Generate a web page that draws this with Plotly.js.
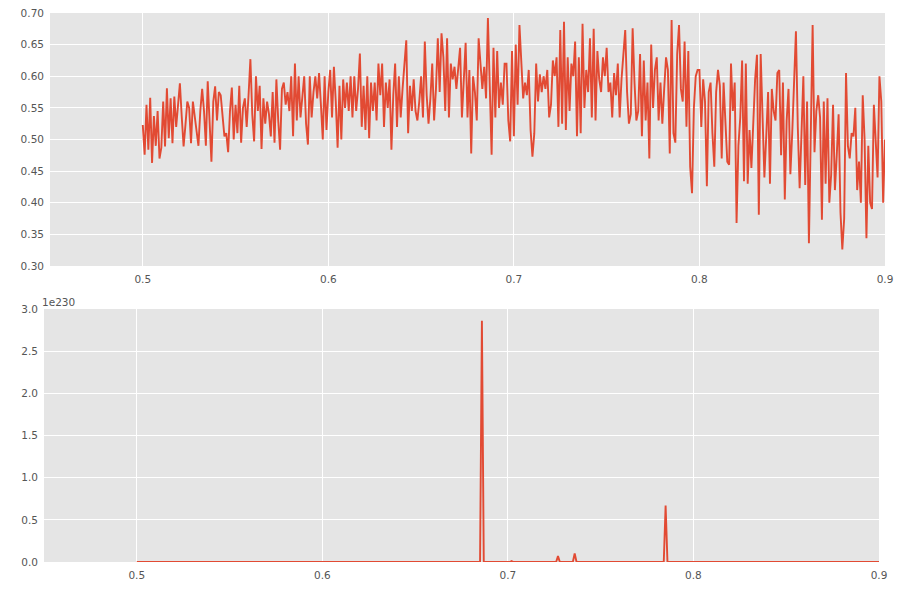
<!DOCTYPE html>
<html>
<head>
<meta charset="utf-8">
<script src="https://cdn.plot.ly/plotly-3.0.1.min.js"></script>
<style>html,body{margin:0;padding:0;background:#fff;}#chart{width:902px;height:599px;}</style>
</head>
<body>
<div id="chart"></div>
<script>
// Top series: sampled from x = 0.5 with step 0.001
const topStart = 0.5;
const topStep = 0.001;
const topValues = [
0.523,0.476,0.555,0.484,0.566,0.463,0.537,0.49,0.545,0.47,
0.487,0.56,0.489,0.581,0.502,0.565,0.494,0.568,0.52,0.55,
0.589,0.536,0.489,0.523,0.56,0.55,0.494,0.56,0.534,0.51,
0.49,0.545,0.58,0.545,0.49,0.592,0.52,0.465,0.56,0.584,
0.53,0.575,0.57,0.53,0.505,0.51,0.48,0.545,0.582,0.50,
0.555,
0.51,0.585,0.495,0.55,0.565,0.52,0.57,0.627,0.54,0.497,
0.60,0.545,0.585,0.485,0.565,0.525,0.56,0.54,0.505,0.575,
0.495,0.595,0.53,0.484,0.58,0.59,0.555,0.575,0.545,0.60,
0.505,0.62,0.53,0.60,0.535,0.57,0.60,0.525,0.492,0.60,
0.535,0.575,0.60,0.565,0.605,0.555,0.50,0.60,0.515,0.575,
0.61,0.535,0.615,0.56,0.487,0.585,0.50,0.595,0.55,0.59,
0.545,0.60,0.535,0.60,0.545,0.58,0.636,0.52,0.585,0.515,
0.60,0.502,0.59,0.545,0.59,0.53,0.62,0.57,0.62,0.52,
0.59,0.55,0.595,0.484,0.57,0.62,0.52,0.60,0.535,0.58,
0.615,0.657,0.51,0.585,0.545,0.595,0.545,0.53,0.56,0.60,
0.535,0.655,
0.57,0.525,0.565,0.62,0.53,0.58,0.66,
0.575,0.668,0.63,0.545,0.66,0.535,0.62,0.595,0.615,0.58,
0.62,0.645,0.535,0.605,0.653,0.535,0.61,0.478,0.60,0.575,
0.53,0.66,0.62,0.58,0.615,0.565,0.692,0.56,0.476,0.645,
0.535,0.64,0.55,0.59,0.555,0.62,0.62,0.53,0.497,0.64,
0.505,0.65,0.555,0.681,
0.625,0.565,0.59,0.57,0.61,0.515,0.473,0.51,0.62,0.56,
0.603,0.575,0.60,0.58,0.61,0.535,0.555,0.625,0.60,0.63,
0.52,0.673,0.525,0.686,0.515,0.63,0.545,0.62,0.60,0.655,
0.505,0.63,0.51,0.683,0.55,0.61,0.575,0.66,0.535,0.675,
0.53,0.64,0.595,0.575,0.63,0.60,0.645,0.575,0.59,0.535,
0.605,
0.57,0.62,0.535,0.595,0.63,0.673,0.575,0.525,0.54,0.676,
0.59,0.53,0.545,0.635,0.505,0.625,0.53,0.59,0.47,0.65,
0.55,0.61,0.63,0.53,0.59,0.525,0.58,0.63,0.61,0.478,
0.689,0.51,0.495,0.635,0.681,0.58,0.56,0.655,0.52,0.64,
0.457,0.415,0.55,0.60,0.61,0.61,0.52,0.595,0.56,0.426,
0.575,
0.59,0.51,0.457,0.575,0.61,0.585,0.47,0.59,0.535,0.465,
0.46,0.62,0.545,0.59,0.368,0.49,0.535,0.625,0.434,0.62,
0.43,0.515,0.455,0.53,0.595,0.634,0.381,0.635,0.55,0.44,
0.505,0.575,0.43,0.58,0.545,0.53,0.605,0.61,0.475,0.59,
0.405,0.53,0.58,0.445,0.51,0.60,0.671,0.52,0.423,0.51,
0.60,
0.428,0.56,0.336,0.48,0.681,0.48,0.545,0.57,0.535,0.373,
0.56,0.43,0.565,0.40,0.445,0.555,0.42,0.475,0.54,0.385,
0.326,0.375,0.605,0.49,0.47,0.51,0.505,0.55,0.42,0.465,
0.40,0.57,0.50,0.344,0.49,0.40,0.39,0.555,0.50,0.44,
0.60,0.56,0.40,0.50
];

// Bottom series (values around 1e230), zero except for spikes
const bottomX = [0.5, 0.685, 0.686, 0.687, 0.701, 0.702, 0.703, 0.726, 0.727, 0.728, 0.735, 0.736, 0.737, 0.784, 0.785, 0.786, 0.9];
const bottomY = [0, 0, 2.86e230, 0, 0, 0.01e230, 0, 0, 0.07e230, 0, 0, 0.1e230, 0, 0, 0.67e230, 0, 0];

const xTicks = [0.5, 0.6, 0.7, 0.8, 0.9];
const xTickText = ['0.5', '0.6', '0.7', '0.8', '0.9'];
const topYTicks = [0.30, 0.35, 0.40, 0.45, 0.50, 0.55, 0.60, 0.65, 0.70];
const bottomYTicks = [0, 0.5e230, 1.0e230, 1.5e230, 2.0e230, 2.5e230, 3.0e230];
const bottomYTickText = ['0.0', '0.5', '1.0', '1.5', '2.0', '2.5', '3.0'];
const bottomExponentLabel = '1e230';

const lineColor = '#E24A33';
const tickFont = {family: 'DejaVu Sans', size: 10.5, color: '#555555'};

const traces = [
  {type: 'scatter', mode: 'lines', x0: topStart, dx: topStep, y: topValues,
   line: {color: lineColor, width: 1.9}, xaxis: 'x', yaxis: 'y', hoverinfo: 'skip'},
  {type: 'scatter', mode: 'lines', x: bottomX, y: bottomY,
   line: {color: lineColor, width: 1.9}, xaxis: 'x2', yaxis: 'y2', hoverinfo: 'skip'}
];

const axCommon = {showgrid: true, gridcolor: '#FFFFFF', gridwidth: 1, zeroline: false,
  showline: false, ticks: '', tickfont: tickFont, fixedrange: true};

const layout = {
  width: 902, height: 599,
  margin: {l: 0, r: 0, t: 0, b: 0},
  paper_bgcolor: '#FFFFFF',
  plot_bgcolor: '#E5E5E5',
  showlegend: false,
  xaxis: Object.assign({}, axCommon, {domain: [50/902, 885/902], range: [0.45, 0.9],
    tickvals: xTicks, ticktext: xTickText, anchor: 'y', ticklabelstandoff: 5}),
  yaxis: Object.assign({}, axCommon, {domain: [333/599, 586/599], range: [0.30, 0.70],
    tickvals: topYTicks, tickformat: '.2f', anchor: 'x', ticklabelstandoff: 5}),
  xaxis2: Object.assign({}, axCommon, {domain: [44/902, 879/902], range: [0.45, 0.9],
    tickvals: xTicks, ticktext: xTickText, anchor: 'y2', ticklabelstandoff: 5}),
  yaxis2: Object.assign({}, axCommon, {domain: [37/599, 290/599], range: [0, 3.0e230],
    tickvals: bottomYTicks, ticktext: bottomYTickText, anchor: 'x2', ticklabelstandoff: 5}),
  annotations: [{
    text: bottomExponentLabel, xref: 'paper', yref: 'paper',
    x: 40/902, y: 289/599, xanchor: 'left', yanchor: 'bottom', showarrow: false,
    font: tickFont
  }]
};

Plotly.newPlot('chart', traces, layout, {staticPlot: true, displayModeBar: false});
</script>
</body>
</html>
